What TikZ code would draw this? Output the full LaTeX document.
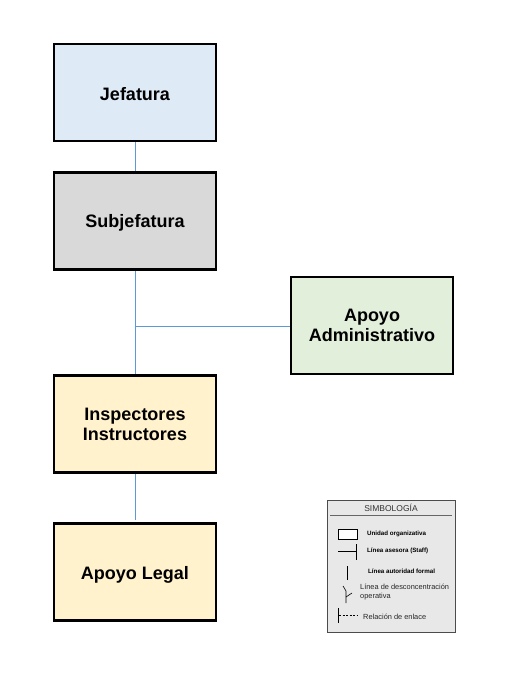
\documentclass[tikz,border=0pt]{standalone}
\usepackage{fontspec}
\setmainfont{Liberation Sans}
\definecolor{jefc}{HTML}{DEEAF6}
\definecolor{subc}{HTML}{D9D9D9}
\definecolor{apac}{HTML}{E2EFDA}
\definecolor{insc}{HTML}{FFF2CC}
\definecolor{linec}{HTML}{5B9BD5}
\definecolor{legc}{HTML}{E8E8E8}
\newcommand{\lowr}[2]{\raisebox{-#1}[\height][\depth]{#2}}
\begin{document}
\begin{tikzpicture}[x=1pt,y=-1pt,
  unit/.style={draw=black,line width=2.2pt,minimum width=162pt,minimum height=97pt,
    inner sep=0pt,align=center,font=\fontsize{18}{20}\selectfont\bfseries},
  conn/.style={draw=linec,line width=0.9pt},
  legtxt/.style={font=\fontsize{7.4}{8.5}\selectfont,text=black!85,anchor=west,inner sep=0pt,align=left},
  legbold/.style={font=\fontsize{6.2}{7.5}\selectfont\bfseries,anchor=west,inner sep=0pt},
  legline/.style={draw=black,line width=0.6pt}]
\useasboundingbox (0,0) rectangle (509,677);
\node[unit,fill=jefc] (jef) at (135,92.5) {\lowr{1.5pt}{Jefatura}};
\node[unit,fill=subc] (sub) at (135,221) {\lowr{2pt}{Subjefatura}};
\node[unit,fill=apac] (apa) at (372,325.5) {Apoyo\\Administrativo};
\node[unit,fill=insc] (ins) at (135,424) {Inspectores\\Instructores};
\node[unit,fill=insc] (leg) at (135,572) {\lowr{3pt}{Apoyo Legal}};
\coordinate (mid) at (135,326);
\coordinate (legtop) at (135,520);
\draw[conn] (jef.south) -- (sub.north);
\draw[conn] (sub.south) -- (ins.north);
\draw[conn] (mid) -- (mid -| apa.west);
\draw[conn] (ins.south) -- (legtop);
% legend
\node[draw=black!70,fill=legc,line width=0.8pt,minimum width=128pt,minimum height=132pt,inner sep=0pt] (lbox) at (391,566) {};
\node[font=\fontsize{8.5}{10}\selectfont,text=black!80,inner sep=0pt] (ltitle) at (391,508) {SIMBOLOGÍA};
\coordinate (hl1) at (330,515);
\coordinate (hl2) at (452,515);
\draw[black!60,line width=1pt] (hl1) -- (hl2);
\node[draw=black,line width=0.6pt,fill=white,minimum width=19pt,minimum height=10pt,inner sep=0pt] (lu) at (347.5,534) {};
\node[legbold] (tu) at (367,534) {Unidad organizativa};
\coordinate (s1) at (338,551);
\coordinate (s2) at (356,551);
\coordinate (s3) at (356,544);
\coordinate (s4) at (356,560);
\draw[legline] (s1) -- (s2);
\draw[legline] (s3) -- (s4);
\node[legbold] (ts) at (367,551) {Línea asesora (Staff)};
\coordinate (f1) at (347,566);
\coordinate (f2) at (347,580);
\draw[legline] (f1) -- (f2);
\node[legbold] (tf) at (368,571) {Línea autoridad formal};
\coordinate (d1) at (343,586);
\coordinate (d2) at (346,591);
\coordinate (d3) at (346,603);
\coordinate (d4) at (346,597);
\coordinate (d5) at (352,593);
\draw[legline] (d1) -- (d2) -- (d3);
\draw[legline] (d4) -- (d5);
\node[legtxt] (td) at (360,592) {Línea de desconcentración\\operativa};
\coordinate (e1) at (338,608);
\coordinate (e2) at (338,623);
\coordinate (e3) at (339,615);
\coordinate (e4) at (357,615);
\draw[legline] (e1) -- (e2);
\draw[legline,dash pattern=on 2pt off 1.5pt] (e3) -- (e4);
\node[legtxt] (te) at (363,617) {Relación de enlace};
\end{tikzpicture}
\end{document}
